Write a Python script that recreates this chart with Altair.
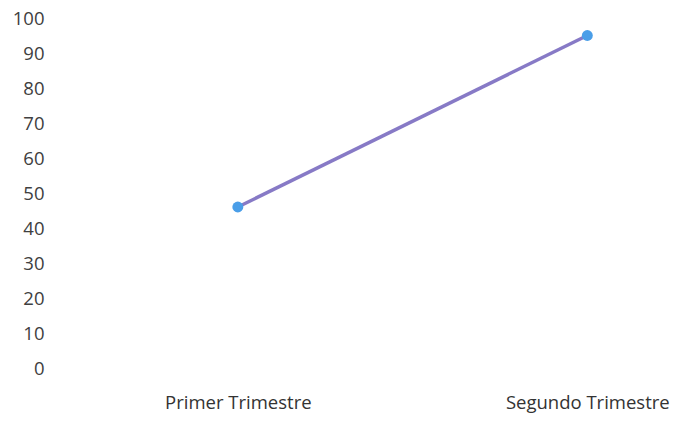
import altair as alt
import pandas as pd

categories = ["Primer Trimestre", "Segundo Trimestre"]
values = [46, 95]

df = pd.DataFrame({"cat": categories, "val": values})

FONT = "Open Sans"

x = alt.X("cat:N", sort=categories, title=None,
          scale=alt.Scale(type="point", padding=0.377, align=0.69),
          axis=alt.Axis(labelAngle=0, domain=False, ticks=False, grid=False,
                        labelFont=FONT, labelFontSize=18.5, labelColor="#333333",
                        labelPadding=25))
y = alt.Y("val:Q", title=None,
          scale=alt.Scale(domain=[0, 100], nice=False),
          axis=alt.Axis(values=list(range(0, 101, 10)), domain=False, ticks=False, grid=False,
                        labelFont=FONT, labelFontSize=18.5, labelColor="#404040",
                        labelPadding=12))

line = alt.Chart(df).mark_line(color="#7a6cc0", strokeWidth=3.5, opacity=0.9).encode(x=x, y=y)
pts = alt.Chart(df).mark_point(filled=True, color="#4a9ee8", size=120, opacity=1).encode(x=x, y=y)

chart = (line + pts).properties(
    width=613, height=350,
    background="white",
    autosize=alt.AutoSizeParams(type="none"),
    padding={"left": 48, "top": 10, "right": 2, "bottom": 50},
).configure_view(strokeWidth=0, stroke="transparent")

chart.save("out.html", embed_options={"renderer": "svg", "actions": False})
